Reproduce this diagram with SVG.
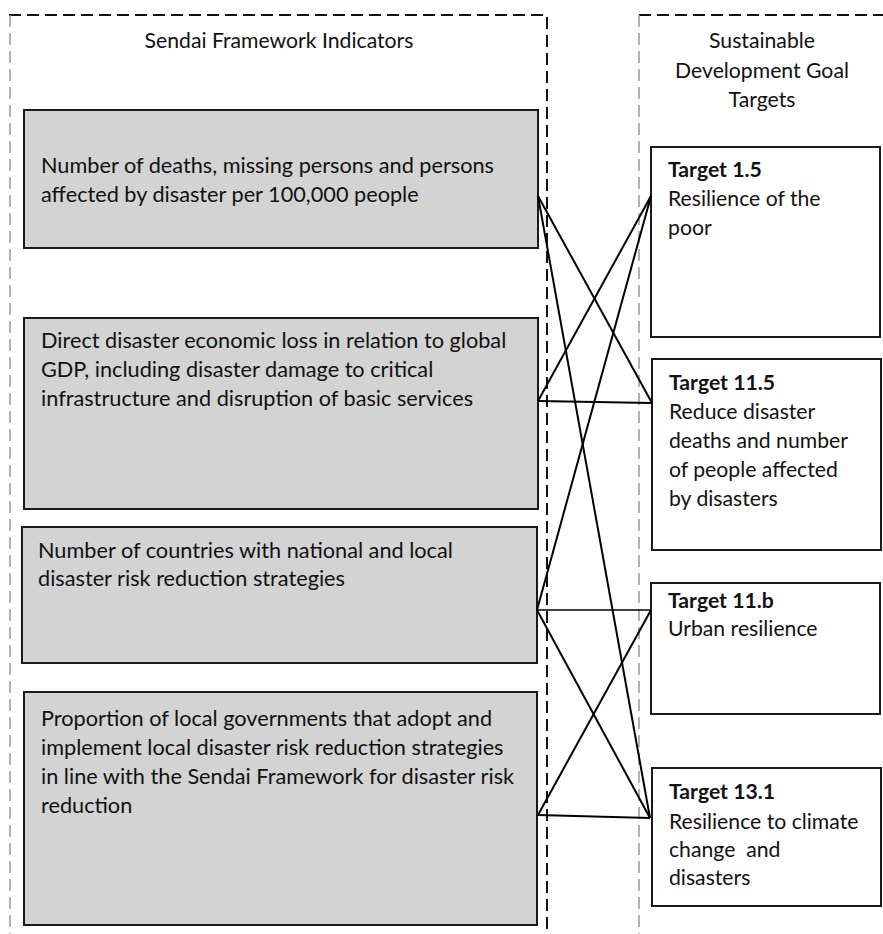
<svg xmlns="http://www.w3.org/2000/svg" width="883" height="934" viewBox="0 0 883 934">
<style>
text{font-family:Lato,"Noto Sans","Liberation Sans",sans-serif;font-size:21.7px;fill:#111}
.r{font-size:21.2px}
.b{font-weight:bold}
.h{text-anchor:middle;font-size:21.2px}
.g{fill:#d3d3d3;stroke:#1a1a1a;stroke-width:2}
.w{fill:#fff;stroke:#1a1a1a;stroke-width:2}
.d{fill:none;stroke:#111;stroke-width:2;stroke-dasharray:12,6}
.dg{fill:none;stroke:#999;stroke-width:1.5;stroke-dasharray:12,6}
.c{stroke:#000;stroke-width:2;fill:none}
</style>
<rect width="883" height="934" fill="#fff"/>
<g id="containers">
<path class="d" d="M9 15 H547 V934"/>
<path class="dg" d="M10 15 V934"/>
<path class="d" d="M639 15 H883"/>
<path class="dg" d="M639 15 V934"/>
<text class="h" x="279" y="48">Sendai Framework Indicators</text>
<text class="h" x="762" y="48">Sustainable</text>
<text class="h" x="762" y="78">Development Goal</text>
<text class="h" x="762" y="107">Targets</text>
</g>
<g id="ind1"><rect class="g" x="24" y="110" width="514" height="138"/>
<text x="41" y="173">Number of deaths, missing persons and persons</text>
<text x="41" y="202">affected by disaster per 100,000 people</text></g>
<g id="ind2"><rect class="g" x="24" y="318" width="514" height="191"/>
<text x="41" y="348">Direct disaster economic loss in relation to global</text>
<text x="41" y="377">GDP, including disaster damage to critical</text>
<text x="41" y="406">infrastructure and disruption of basic services</text></g>
<g id="ind3"><rect class="g" x="22" y="527" width="515" height="136"/>
<text x="38" y="558">Number of countries with national and local</text>
<text x="38" y="586">disaster risk reduction strategies</text></g>
<g id="ind4"><rect class="g" x="24" y="692" width="513" height="233"/>
<text x="41" y="726">Proportion of local governments that adopt and</text>
<text x="41" y="755">implement local disaster risk reduction strategies</text>
<text x="41" y="784">in line with the Sendai Framework for disaster risk</text>
<text x="41" y="813">reduction</text></g>
<g id="t15"><rect class="w" x="651" y="147" width="229" height="190"/>
<text class="b r" x="668" y="177">Target 1.5</text>
<text class="r" x="668" y="206">Resilience of the</text>
<text class="r" x="668" y="235">poor</text></g>
<g id="t115"><rect class="w" x="652" y="359" width="229" height="191"/>
<text class="b r" x="669" y="390">Target 11.5</text>
<text class="r" x="669" y="419">Reduce disaster</text>
<text class="r" x="669" y="448">deaths and number</text>
<text class="r" x="669" y="477">of people affected</text>
<text class="r" x="669" y="506">by disasters</text></g>
<g id="t11b"><rect class="w" x="651" y="583" width="229" height="131"/>
<text class="b r" x="668" y="608">Target 11.b</text>
<text class="r" x="668" y="636">Urban resilience</text></g>
<g id="t131"><rect class="w" x="652" y="768" width="229" height="138"/>
<text class="b r" x="669" y="799">Target 13.1</text>
<text class="r" x="669" y="829">Resilience to climate</text>
<text class="r" x="669" y="857" style="white-space:pre">change  and</text>
<text class="r" x="669" y="885">disasters</text></g>
<g id="connectors">
<line class="c" x1="538" y1="196" x2="652" y2="403"/>
<line class="c" x1="538" y1="196" x2="650" y2="818"/>
<line class="c" x1="538" y1="401" x2="651" y2="196"/>
<line class="c" x1="538" y1="401" x2="652" y2="403"/>
<line class="c" x1="537" y1="610" x2="651" y2="196"/>
<line class="c" x1="537" y1="610" x2="651" y2="610" style="stroke-width:1.3"/>
<line class="c" x1="537" y1="610" x2="650" y2="818"/>
<line class="c" x1="538" y1="815" x2="651" y2="610"/>
<line class="c" x1="538" y1="815" x2="650" y2="818"/>
</g>
</svg>
